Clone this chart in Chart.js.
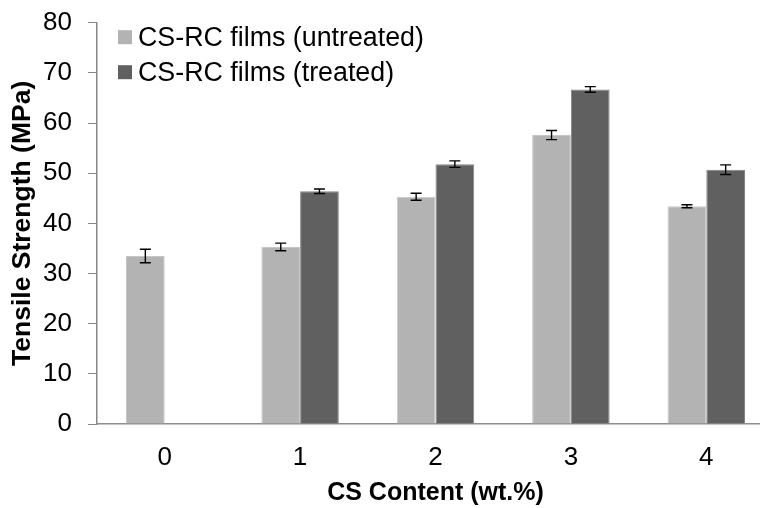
<!DOCTYPE html>
<html>
<head>
<meta charset="utf-8">
<script src="https://cdn.jsdelivr.net/npm/chart.js@4.4.1/dist/chart.umd.min.js"></script>
<style>
  html, body { margin: 0; padding: 0; background: #ffffff; overflow: hidden; }
  #wrap { width: 760px; height: 508px; overflow: hidden; }
  canvas { display: block; }
</style>
</head>
<body>
<div id="wrap"><canvas id="chart" width="774" height="508"></canvas></div>
<script>
// CS content groups (wt.%)
const categories = ['0', '1', '2', '3', '4'];

// Tensile strength (MPa), mean values
const untreated = [33.5, 35.3, 45.3, 57.6, 43.4];
const treated   = [null, 46.4, 51.8, 66.7, 50.7];

// Standard deviations for the error bars
const errUntreated = [1.35, 0.75, 0.7, 0.9, 0.3];
const errTreated   = [null, 0.45, 0.65, 0.55, 0.95];

const seriesNames = ['CS-RC films (untreated)', 'CS-RC films (treated)'];
const yTicks = { min: 0, max: 80, step: 10 };

const FONT = '"Liberation Sans", Arial, sans-serif';

// Symmetric error bars, placed with the chart's own scales
const errorBars = {
  id: 'errorBars',
  afterDatasetsDraw(chart) {
    const ctx = chart.ctx;
    const yScale = chart.scales.y;
    const errs = [errUntreated, errTreated];
    ctx.save();
    ctx.strokeStyle = '#000000';
    ctx.lineWidth = 1.4;
    chart.data.datasets.forEach((ds, di) => {
      const meta = chart.getDatasetMeta(di);
      ds.data.forEach((v, i) => {
        const e = errs[di][i];
        if (v == null || e == null) return;
        const x = meta.data[i].x;
        const yTop = yScale.getPixelForValue(v + e);
        const yBot = yScale.getPixelForValue(v - e);
        const half = 5.5;
        ctx.beginPath();
        ctx.moveTo(x, yTop); ctx.lineTo(x, yBot);
        ctx.moveTo(x - half, yTop); ctx.lineTo(x + half, yTop);
        ctx.moveTo(x - half, yBot); ctx.lineTo(x + half, yBot);
        ctx.stroke();
      });
    });
    ctx.restore();
  }
};

// Legend stacked in the upper-left corner of the plot
const cornerLegend = {
  id: 'cornerLegend',
  afterDraw(chart) {
    const ctx = chart.ctx;
    const area = chart.chartArea;
    ctx.save();
    ctx.font = '26.8px ' + FONT;
    ctx.textBaseline = 'middle';
    ctx.textAlign = 'left';
    chart.data.datasets.forEach((ds, i) => {
      const cy = area.top + 14.5 + i * 35;
      const bx = area.left + 21;
      ctx.fillStyle = ds.backgroundColor;
      ctx.fillRect(bx, cy - 7, 14, 14);
      ctx.fillStyle = '#000000';
      ctx.fillText(ds.label, bx + 20, cy + 1);
    });
    ctx.restore();
  }
};

new Chart(document.getElementById('chart'), {
  type: 'bar',
  data: {
    labels: categories,
    datasets: [
      {
        label: seriesNames[0],
        data: untreated,
        backgroundColor: '#b3b3b3',
        borderColor: '#c6c6c6',
        borderWidth: 1,
        categoryPercentage: 0.572,
        barPercentage: 1.0
      },
      {
        label: seriesNames[1],
        data: treated,
        backgroundColor: '#606060',
        borderColor: '#858585',
        borderWidth: 1,
        categoryPercentage: 0.572,
        barPercentage: 1.0
      }
    ]
  },
  options: {
    responsive: false,
    animation: false,
    devicePixelRatio: 1,
    layout: { padding: { top: 22.7, right: 0, bottom: 0, left: 0 } },
    plugins: {
      legend: { display: false },
      tooltip: { enabled: false }
    },
    scales: {
      x: {
        grid: { display: false, drawTicks: false },
        border: { color: '#8e8e8e', width: 1.5 },
        ticks: {
          color: '#000000',
          font: { family: FONT, size: 26 },
          padding: 18,
          maxRotation: 0
        },
        title: {
          display: true,
          text: 'CS Content (wt.%)',
          color: '#000000',
          font: { family: FONT, size: 25, weight: 'bold' },
          padding: { top: 0, bottom: 0 }
        },
        afterFit(scale) { scale.height = 84; }
      },
      y: {
        min: yTicks.min,
        max: yTicks.max,
        grid: { drawOnChartArea: false, drawTicks: true, tickLength: 9, color: '#868686' },
        border: { color: '#868686', width: 1.5 },
        ticks: {
          stepSize: yTicks.step,
          color: '#000000',
          font: { family: FONT, size: 26 },
          padding: 16
        },
        title: {
          display: true,
          text: 'Tensile Strength (MPa)',
          color: '#000000',
          font: { family: FONT, size: 26.5, weight: 'bold' },
          padding: { top: 7, bottom: 0 }
        },
        afterFit(scale) {
          scale.width = 97;
          scale.paddingTop = 0;
          scale.paddingBottom = 0;
        }
      }
    }
  },
  plugins: [errorBars, cornerLegend]
});
</script>
</body>
</html>
